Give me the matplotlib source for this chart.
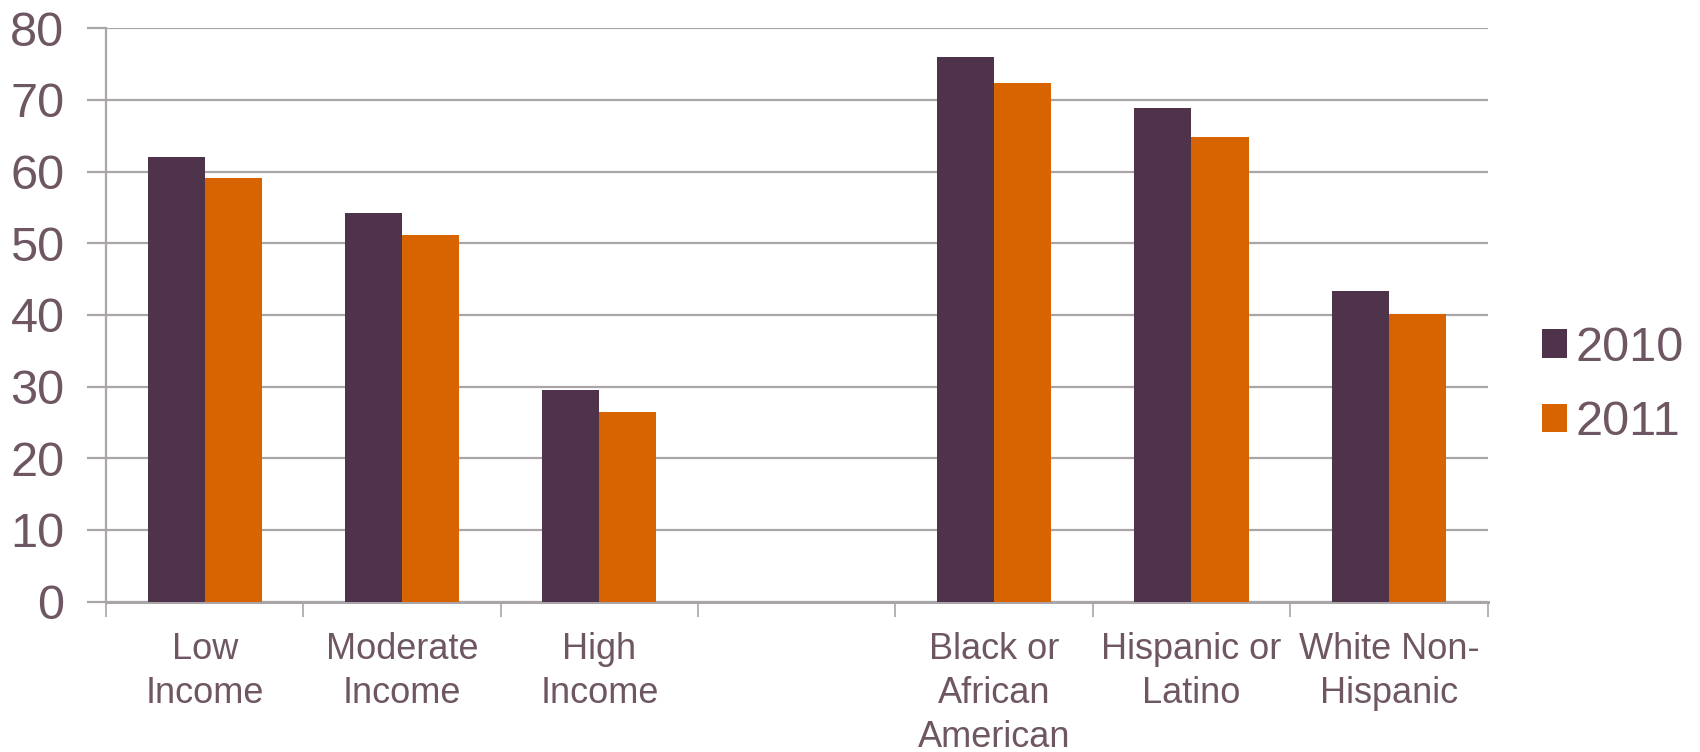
import numpy as np
import matplotlib
matplotlib.use("Agg")
import matplotlib.pyplot as plt

categories = ["Low\nIncome", "Moderate\nIncome", "High\nIncome", "",
              "Black or\nAfrican\nAmerican", "Hispanic or\nLatino", "White Non-\nHispanic"]
series_names = ["2010", "2011"]
values_2010 = [62.0, 54.2, 29.5, np.nan, 76.0, 68.9, 43.4]
values_2011 = [59.1, 51.2, 26.4, np.nan, 72.4, 64.8, 40.1]
y_ticks = [0, 10, 20, 30, 40, 50, 60, 70, 80]

c2010 = "#4E334A"
c2011 = "#D76400"
text_c = "#6E5663"
grid_c = "#A9A5A8"

plt.rcParams['font.family'] = ['Liberation Sans', 'DejaVu Sans']

fig = plt.figure(figsize=(17, 7.52), dpi=100)
ax = fig.add_axes([0.0624, 0.2, 0.8126, 0.7625])

x = np.arange(len(categories))
w = 0.289
ax.bar(x - w / 2, values_2010, width=w, color=c2010, label=series_names[0], zorder=3)
ax.bar(x + w / 2, values_2011, width=w, color=c2011, label=series_names[1], zorder=3)

ax.set_xlim(-0.5, len(categories) - 0.5)
ax.set_ylim(0, 80)
ax.set_yticks(y_ticks)
ax.set_yticklabels([str(v) for v in y_ticks], fontsize=35, color=text_c)
ax.yaxis.grid(True, color=grid_c, linewidth=1.6, zorder=0)
ax.set_axisbelow(True)

# category labels centered in slots, tick marks on slot boundaries
ax.set_xticks(np.arange(-0.5, len(categories)), minor=False)
ax.set_xticklabels([])
ax.set_xticks(x, minor=True)
ax.set_xticklabels(categories, minor=True, fontsize=26, color=text_c, linespacing=1.33)
ax.tick_params(axis='x', which='minor', length=0, pad=22)
ax.tick_params(axis='x', which='major', length=11, width=1.2, color=grid_c, direction='out')
ax.tick_params(axis='y', length=14, width=1.6, color=grid_c, pad=16)

for s in ['top', 'right']:
    ax.spines[s].set_visible(False)
ax.spines['left'].set_color(grid_c)
ax.spines['left'].set_linewidth(1.6)
ax.spines['bottom'].set_color(grid_c)
ax.spines['bottom'].set_linewidth(2.2)

leg = ax.legend(loc='center left', bbox_to_anchor=(1.008, 0.377), frameon=False,
                fontsize=35, handlelength=0.51, handleheight=0.52, handletextpad=0.18,
                labelspacing=0.6, labelcolor=text_c)

fig.savefig("out.png", dpi=100, facecolor="white")
